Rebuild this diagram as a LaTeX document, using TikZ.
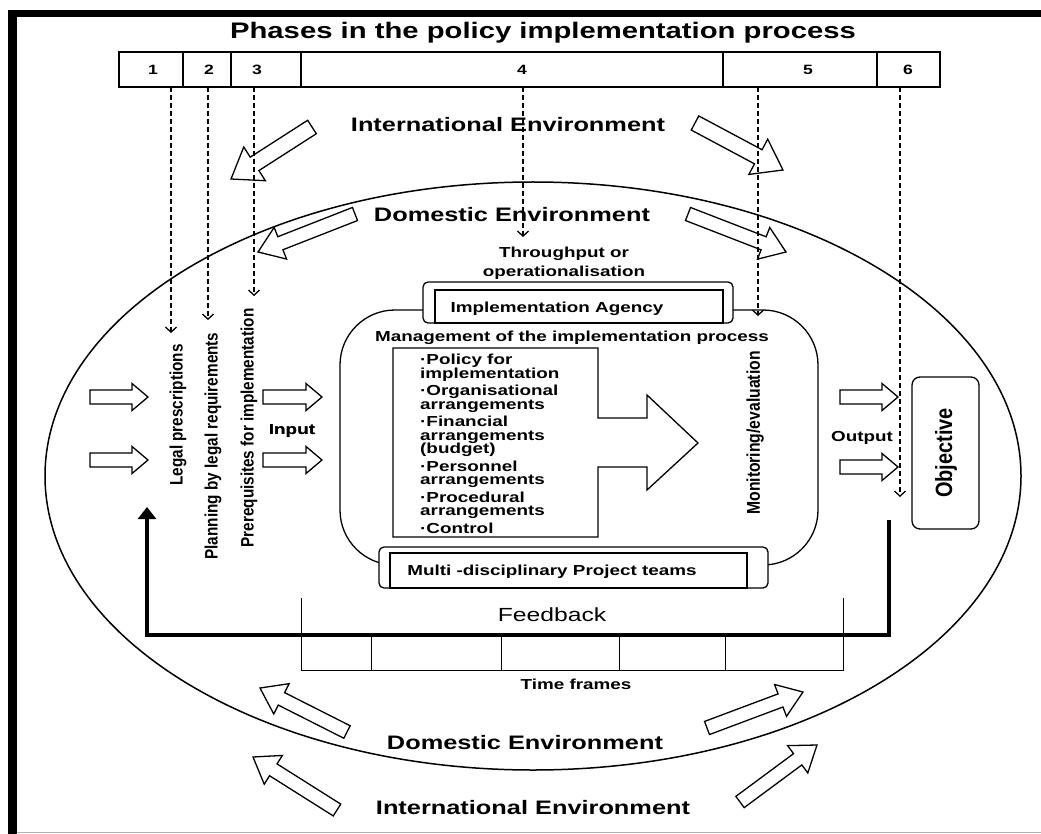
\documentclass[tikz,border=0pt]{standalone}
\usepackage{fontspec}
\setmainfont{Liberation Sans}
\newfontfamily\widesf[FakeStretch=1.3]{Liberation Sans}
\newfontfamily\narrowsf[FakeStretch=0.85]{Liberation Sans}
\usetikzlibrary{calc,arrows.meta}

% list lines are set tighter than the glyphs allow
\newcommand\tightlines{\setlength{\lineskiplimit}{-20pt}\setlength{\lineskip}{0pt}}

\tikzset{
  box/.style={draw, line width=1.3pt},
  envtext/.style={font=\widesf\bfseries\fontsize{19.5}{20}\selectfont, inner sep=0pt},
  smalltext/.style={font=\widesf\bfseries\fontsize{14.5}{19}\selectfont, inner sep=0pt},
  sidetext/.style={font=\narrowsf\bfseries\fontsize{18}{18}\selectfont, inner sep=0pt, rotate=90},
  phasenum/.style={font=\widesf\bfseries\fontsize{13.5}{13}\selectfont, inner sep=0pt},
  phase/.style={line width=1.3pt, dash pattern=on 5pt off 3pt,
    -{Straight Barb[length=5pt,width=11pt]}},
  hollow/.style={draw, line width=1.3pt, fill=white, line join=miter},
  feedback/.style={line width=4.5pt, line join=miter, -{Triangle[length=12pt,width=18pt]}},
  ruler/.style={line width=0.9pt},
}

% hollow block arrow: tail, tip, shaft half width, head half width, head length
\newcommand\blockarrow[5]{%
  \draw[hollow] let \p1=#1, \p2=#2,
    \n1={atan2(\y2-\y1,\x2-\x1)}, \n2={veclen(\x2-\x1,\y2-\y1)} in
    [shift={(\p1)}, rotate=\n1]
    (0,-#3) -- (\n2-#5,-#3) -- (\n2-#5,-#4) -- (\n2,0)
    -- (\n2-#5,#4) -- (\n2-#5,#3) -- (0,#3) -- cycle;}

\begin{document}
\begin{tikzpicture}[x=1pt, y=-1pt]
\useasboundingbox (0,0) rectangle (1041,834);

% frame
\fill (8,10) rectangle (17,834);
\fill (8,10) rectangle (1041,17);
\draw[black!30, line width=1pt] (17,832) -- (1041,832);

% phases
\node[font=\widesf\bfseries\fontsize{22.5}{24}\selectfont, inner sep=0pt] (title)
  at (543,33) {Phases in the policy implementation process};
\draw[box] (119,52) rectangle (940,87);
\foreach \x in {183,231,301,723,877}
  \draw[box] (\x,52) -- (\x,87);
\foreach \n/\x in {1/153,2/209,3/257,4/522,5/808,6/908}
  \node[phasenum] (num\n) at (\x,70) {\n};

% environment
\draw[line width=1.5pt] (533,476) ellipse [x radius=488, y radius=294];
\node[envtext] (intTop) at (508,125) {International Environment};
\node[envtext] (domTop) at (512,215) {Domestic Environment};
\node[envtext] (domBot) at (525,743) {Domestic Environment};
\node[envtext] (intBot) at (533,808) {International Environment};

\blockarrow{(312,127)}{(231,179)}{8}{20}{28}
\blockarrow{(695,123)}{(783,170)}{8}{20}{28}
\blockarrow{(355,214)}{(258,252)}{7}{17}{24}
\blockarrow{(688,214)}{(786,252)}{7}{17}{24}
\blockarrow{(347,732)}{(260,688)}{7}{17}{24}
\blockarrow{(337,810)}{(253,757)}{7}{17}{24}
\blockarrow{(707,728)}{(803,692)}{7}{17}{24}
\blockarrow{(740,802)}{(817,745)}{7}{17}{24}

% inputs and outputs
\foreach \row in {397,460} {
  \blockarrow{(90,\row)}{(148,\row)}{7}{13.5}{16}
  \blockarrow{(263,\row)}{(322,\row)}{7}{13.5}{16}
}
\foreach \row in {397,467}
  \blockarrow{(840,\row)}{(898,\row)}{7}{13.5}{16}
\node[smalltext] (input) at (292,431) {Input};
\node[smalltext] (output) at (862,438) {Output};

\node[sidetext] (legal) at (178,415) {Legal prescriptions};
\node[sidetext] (planning) at (213,446) {Planning by legal requirements};
\node[sidetext] (prereq) at (249,428) {Prerequisites for implementation};

% throughput
\node[smalltext, align=center] (through) at (564,263) {Throughput or\\operationalisation};
\draw[box, rounded corners=55pt] (340,310) rectangle (818,565);
\draw[box, fill=white, rounded corners=5pt] (423,282) rectangle (733,323);
\draw[box] (435,290) rectangle (723,323);
\node[smalltext] (agency) at (557,309) {Implementation Agency};
\node[smalltext] (manage) at (572,338) {Management of the implementation process};

\draw[box, line join=miter] (393,348) -- (598,348) -- (598,418) -- (647,418) -- (647,395)
  -- (698,443) -- (647,490) -- (647,467) -- (598,467) -- (598,537) -- (393,537) -- cycle;
\node[font=\widesf\bfseries\fontsize{14.5}{13.3}\selectfont\tightlines,
  align=left, inner sep=0pt, anchor=north west] (tasks) at (420,354) {%
  ·Policy for\\implementation\\[4.5pt]
  ·Organisational\\arrangements\\[4.5pt]
  ·Financial\\arrangements\\(budget)\\[4.5pt]
  ·Personnel\\arrangements\\[4.5pt]
  ·Procedural\\arrangements\\[4.5pt]
  ·Control};
\node[sidetext, font=\narrowsf\bfseries\fontsize{18.5}{18}\selectfont] (monitor)
  at (755,433) {Monitoring/evaluation};

\draw[box, fill=white, rounded corners=5pt] (379,547) rectangle (768,588);
\draw[box] (390,553) rectangle (747,588);
\node[smalltext] (teams) at (552,572) {Multi -disciplinary Project teams};

\draw[box, rounded corners=8pt] (912,377) rectangle (979,529);
\node[sidetext, font=\narrowsf\bfseries\fontsize{23.5}{24}\selectfont] (objective)
  at (946,453) {Objective};

% feedback and time frames
\draw[ruler] (301,598) -- (301,670) -- (843,670) -- (843,598);
\foreach \x in {371,501,619,725}
  \draw[ruler] (\x,635) -- (\x,670);
\coordinate (fbstart) at (889,520);
\coordinate (fbcorner) at (147,635);
\coordinate (fbend) at (147,507);
\draw[feedback] (fbstart) |- (fbcorner) -- (fbend);
\node[font=\widesf\fontsize{19}{20}\selectfont, inner sep=0pt] (fbtext) at (552,615) {Feedback};
\node[smalltext] (time) at (576,684) {Time frames};

% phase links
\foreach \i/\x/\y in {1/171/333, 2/208/320, 3/254/296, 4/523/237, 5/758/316, 6/900/497} {
  \coordinate (ph\i) at (\x,87);
  \coordinate (hit\i) at (\x,\y);
  \draw[phase] (ph\i) -- (hit\i);
}
\end{tikzpicture}
\end{document}
